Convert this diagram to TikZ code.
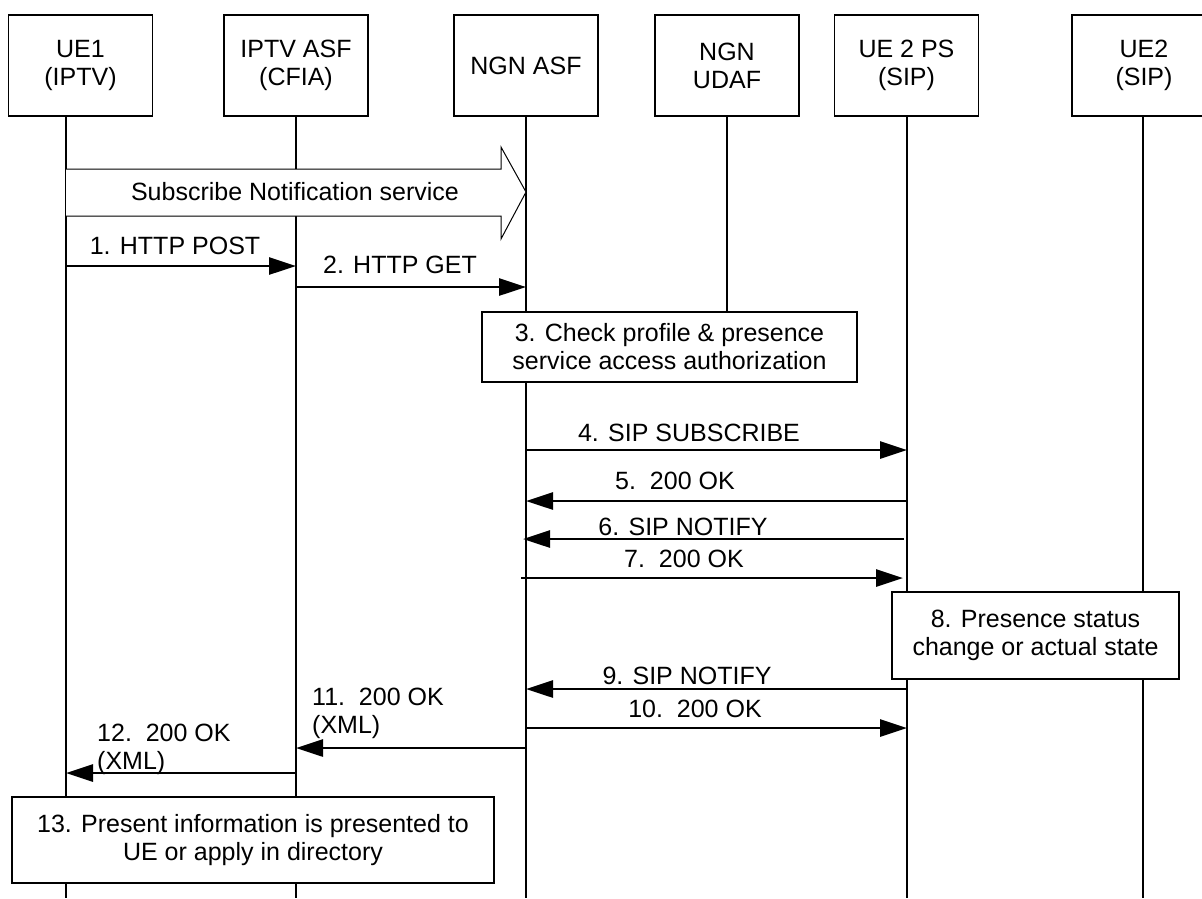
\documentclass[tikz,border=0pt]{standalone}
\usepackage{fontspec}
\setmainfont{Liberation Sans}
\usetikzlibrary{arrows.meta}
\begin{document}
\begin{tikzpicture}[x=1pt,y=-1pt,
  every node/.style={font=\fontsize{25}{28}\selectfont},
  head/.style={draw, line width=1.8pt, minimum width=144pt, minimum height=101pt,
    inner sep=0pt, align=center},
  life/.style={line width=1.6pt},
  note/.style={draw, fill=white, line width=1.8pt, inner sep=0pt, align=center},
  msg/.style={line width=2.8pt, -{Triangle[length=27pt,width=17pt]}},
  lbl/.style={inner sep=0pt},
  bigarrow/.style={line width=1pt}]
\useasboundingbox (0,0) rectangle (1202,898);

% participants
\node[head] (ue1)  at (80.5,65.5) {UE1\\(IPTV)};
\node[head] (iptv) at (296,65.5)  {IPTV ASF\\(CFIA)};
\node[head] (asf)  at (526,65.5)  {NGN ASF};
\node[head] (udaf) at (727,65.5)  {NGN\\UDAF};
\node[head] (ps)   at (906.5,65.5) {UE 2 PS\\(SIP)};
\node[head] (ue2)  at (1144,65.5) {UE2\\(SIP)};

% lifeline ends
\coordinate (l1) at (66,898);
\coordinate (l2) at (296,898);
\coordinate (l3) at (526,898);
\coordinate (l5) at (907,898);
\coordinate (l6) at (1143,898);

% lifelines
\draw[life] (l1 |- ue1.south) -- (l1);
\draw[life] (l2 |- iptv.south) -- (l2);
\draw[life] (l3 |- asf.south) -- (l3);
\draw[life] (l5 |- ps.south) -- (l5);
\draw[life] (l6 |- ue2.south) -- (l6);

% step boxes, drawn over the lifelines
\node[note, minimum width=375pt, minimum height=70pt] (chk) at (669.5,347)
  {3. Check profile \& presence\\service access authorization};
\node[note, minimum width=287pt, minimum height=87pt] (pres) at (1035.5,635.5)
  {8. Presence status\\change or actual state};
\node[note, minimum width=482pt, minimum height=86pt] (show) at (253,840)
  {13. Present information is presented to\\UE or apply in directory};

% the UDAF lifeline stops at box 3
\draw[life] (udaf.south) -- (udaf.south |- chk.north);

% subscription block arrow
\fill[white] (l1 |- 0,169) -- (501,169) -- (501,147) -- (l3 |- 0,192)
  -- (501,239) -- (501,216) -- (l1 |- 0,216) -- cycle;
\draw[bigarrow] (l1 |- 0,169) -- (501,169) -- (501,147) -- (l3 |- 0,192)
  -- (501,239) -- (501,216) -- (l1 |- 0,216);
\node[lbl] (sub) at (295,192) {Subscribe Notification service};

% messages
\draw[msg] (l1 |- 0,266) -- (l2 |- 0,266);
\node[lbl] (t1) at (175,246) {1. HTTP POST};
\draw[msg] (l2 |- 0,287) -- (l3 |- 0,287);
\node[lbl] (t2) at (400,265) {2. HTTP GET};

\draw[msg] (l3 |- 0,450) -- (l5 |- 0,450);
\node[lbl] (t4) at (689,433) {4. SIP SUBSCRIBE};
\draw[msg] (l5 |- 0,501) -- (l3 |- 0,501);
\node[lbl] (t5) at (675,481) {5.~~200 OK};
\draw[msg] ([xshift=-3pt]l5 |- 0,539) -- ([xshift=-3pt]l3 |- 0,539);
\node[lbl] (t6) at (683,527) {6. SIP NOTIFY};
\draw[msg] ([xshift=-5pt]l3 |- 0,578) -- ([xshift=-4pt]l5 |- 0,578);
\node[lbl] (t7) at (684,559) {7.~~200 OK};

\draw[msg] (l5 |- 0,689) -- (l3 |- 0,689);
\node[lbl] (t9) at (687,676) {9. SIP NOTIFY};
\draw[msg] (l3 |- 0,728) -- (l5 |- 0,728);
\node[lbl] (t10) at (695,709) {10.~~200 OK};
\draw[msg] (l3 |- 0,748) -- (l2 |- 0,748);
\node[lbl, align=left, anchor=west] (t11) at (312,713) {11.~~200 OK\\(XML)};
\draw[msg] (l2 |- 0,773) -- (l1 |- 0,773);
\node[lbl, align=left, anchor=west] (t12) at (97,749) {12.~~200 OK\\(XML)};
\end{tikzpicture}
\end{document}
